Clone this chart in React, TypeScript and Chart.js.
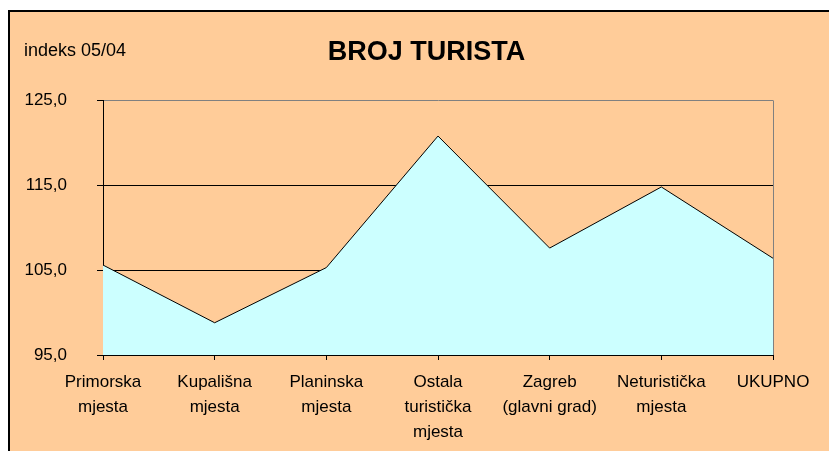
import React, { useEffect, useRef } from "react";
import { Chart, registerables } from "chart.js";

Chart.register(...registerables);

const categories: string[][] = [
  ["Primorska", "mjesta"],
  ["Kupališna", "mjesta"],
  ["Planinska", "mjesta"],
  ["Ostala", "turistička", "mjesta"],
  ["Zagreb", "(glavni grad)"],
  ["Neturistička", "mjesta"],
  ["UKUPNO"],
];
const values: number[] = [105.6, 98.8, 105.3, 120.8, 107.6, 114.8, 106.4];
const yTicks: number[] = [95, 105, 115, 125];
const titleText = "BROJ TURISTA";
const subtitleText = "indeks 05/04";

const FONT = "'Liberation Sans', Arial, sans-serif";

export default function App() {
  const ref = useRef<HTMLCanvasElement | null>(null);

  useEffect(() => {
    if (!ref.current) return;
    const cornerLabel = {
      id: "cornerLabel",
      afterDraw(chart: any) {
        const ctx = chart.ctx;
        ctx.save();
        ctx.font = `18px ${FONT}`;
        ctx.fillStyle = "#000";
        ctx.textAlign = "left";
        ctx.textBaseline = "alphabetic";
        ctx.fillText(subtitleText, 14, 44);
        ctx.restore();
      },
    };
    const chart = new Chart(ref.current, {
      type: "line",
      data: {
        labels: categories,
        datasets: [
          {
            data: values,
            borderColor: "#000",
            borderWidth: 1,
            backgroundColor: "#CCFFFF",
            fill: "start",
            pointRadius: 0,
            tension: 0,
            yAxisID: "y",
          },
        ],
      },
      options: {
        responsive: false,
        animation: false,
        layout: { padding: { left: 14, right: 0, top: 0, bottom: 0 } },
        plugins: {
          legend: { display: false },
          tooltip: { enabled: false },
          title: {
            display: true,
            text: titleText,
            color: "#000",
            font: { family: FONT, size: 27, weight: "bold" },
            padding: { top: 24, bottom: 32 },
          },
        },
        scales: {
          x: {
            offset: false,
            border: { display: true, color: "#000", width: 1 },
            grid: {
              color: (c: any) => (c.index === categories.length - 1 ? "#808080" : "rgba(0,0,0,0)"),
              tickColor: "#000",
              tickLength: 5,
              drawTicks: true,
            },
            ticks: {
              color: "#000",
              font: { family: FONT, size: 17, lineHeight: 25 / 17 },
              padding: 10,
              maxRotation: 0,
              autoSkip: false,
            },
            afterFit: (s: any) => {
              s.height = 96;
            },
          },
          y: {
            min: 95,
            max: 125,
            border: { display: true, color: "#000", width: 1 },
            grid: {
              color: (c: any) => (c.tick && c.tick.value === 125 ? "#808080" : "#000"),
              tickColor: "#000",
              tickLength: 6,
            },
            afterBuildTicks: (s: any) => {
              s.ticks = yTicks.map((v) => ({ value: v }));
            },
            ticks: {
              color: "#000",
              font: { family: FONT, size: 17 },
              padding: 30,
              callback: (v: any) => Number(v).toFixed(1).replace(".", ","),
            },
            afterFit: (s: any) => {
              s.width = 79;
            },
          },
          y2: {
            position: "right",
            display: true,
            border: { display: false },
            grid: { display: false, drawTicks: false },
            ticks: { display: false },
            afterFit: (s: any) => {
              s.width = 56;
            },
          },
        },
      },
      plugins: [cornerLabel],
    } as any);
    return () => chart.destroy();
  }, []);

  return (
    <div
      style={{
        position: "fixed",
        left: 8,
        top: 10,
        width: 840,
        height: 460,
        borderLeft: "2px solid #000",
        borderTop: "2px solid #000",
        background: "#FFCC99",
        overflow: "hidden",
      }}
    >
      <canvas ref={ref} width={819} height={439} style={{ display: "block" }} />
    </div>
  );
}
